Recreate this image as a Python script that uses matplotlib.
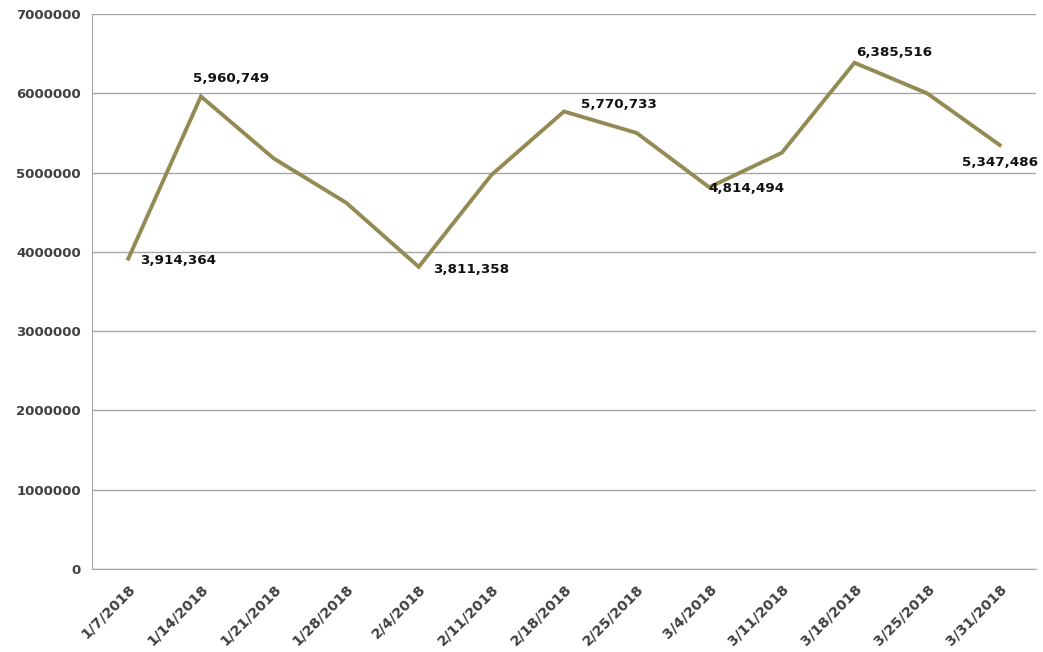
import matplotlib.pyplot as plt

dates = ['1/7/2018', '1/14/2018', '1/21/2018', '1/28/2018', '2/4/2018', '2/11/2018',
         '2/18/2018', '2/25/2018', '3/4/2018', '3/11/2018', '3/18/2018', '3/25/2018', '3/31/2018']
values = [3914364, 5960749, 5180000, 4620000, 3811358, 4970000,
          5770733, 5500000, 4814494, 5250000, 6385516, 6000000, 5347486]
# which points carry a data label, and where (offset in pixels)
labelled = {0: (12, -2), 1: (-8, 18), 4: (14, -3), 6: (17, 7), 8: (-1, -1), 10: (2, 10), 12: (-38, -17)}

plt.rcParams['font.family'] = ['DejaVu Sans']

fig = plt.figure(figsize=(10.43, 6.52), dpi=100)
ax = fig.add_axes([0.0882, 0.1273, 0.9051, 0.8512])

x = list(range(len(dates)))
ax.plot(x, values, color='#948A54', linewidth=2.8, solid_joinstyle='miter', zorder=3)

for i, (dx, dy) in labelled.items():
    ax.annotate(f'{values[i]:,}', (x[i], values[i]), xytext=(dx, dy), textcoords='offset pixels',
                ha='left', va='center', fontsize=9.7, fontweight='bold', color='#111111')

ax.set_xlim(-0.5, len(dates) - 0.5)
ax.set_ylim(0, 7000000)
ax.set_yticks(range(0, 7000001, 1000000))
ax.set_yticklabels([str(v) for v in range(0, 7000001, 1000000)])
ax.set_xticks(x)
ax.set_xticklabels(dates, rotation=45, ha='right', rotation_mode='anchor')

ax.grid(axis='y', color='#A6A6A6', linewidth=1)
ax.set_axisbelow(True)
for s in ['top', 'right']:
    ax.spines[s].set_visible(False)
for s in ['left', 'bottom']:
    ax.spines[s].set_color('#A6A6A6')
ax.tick_params(length=0, pad=8, labelsize=9.5, colors='#404040')
ax.tick_params(axis='x', labelsize=10.3, pad=9)
for lab in ax.get_xticklabels() + ax.get_yticklabels():
    lab.set_fontweight('bold')

fig.savefig('out.png', dpi=100)
